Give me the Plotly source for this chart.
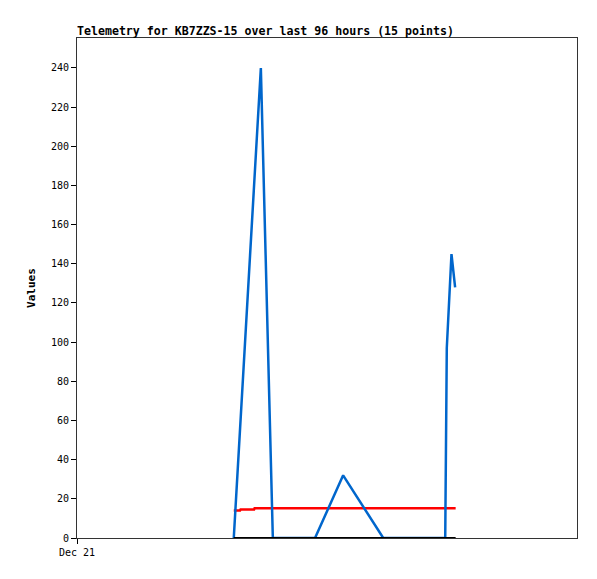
import plotly.graph_objects as go

# Hours since start of window (Dec 21)
blue_hours = [30.1, 35.3, 37.6, 45.7, 51.1, 58.8, 70.7, 71.0, 71.9, 72.6]
blue_values = [0, 240, 0, 0, 32, 0, 0, 97, 145, 128]

red_hours = [30.1, 31.3, 31.4, 34.0, 34.1, 72.7]
red_values = [14.0, 14.0, 14.5, 14.5, 15.2, 15.2]

black_hours = [30.1, 72.7]
black_values = [0, 0]

x_tick_vals = [0]
x_tick_text = ["Dec 21"]
y_tick_vals = list(range(0, 260, 20))

W, H = 589, 571  # page body has an 8px margin

fig = go.Figure()
fig.add_trace(go.Scatter(x=red_hours, y=red_values, mode="lines",
                         line=dict(color="#ff0000", width=2.5), showlegend=False))
fig.add_trace(go.Scatter(x=blue_hours, y=blue_values, mode="lines",
                         line=dict(color="#0066cc", width=2.5), showlegend=False))
fig.add_trace(go.Scatter(x=black_hours, y=black_values, mode="lines",
                         line=dict(color="#000000", width=2), showlegend=False))

fig.update_layout(
    width=W, height=H,
    margin=dict(l=69, r=20, t=30, b=41),
    paper_bgcolor="white", plot_bgcolor="white",
    font=dict(family="DejaVu Sans Mono", size=10, color="#000000"),
    title=dict(text="<b>Telemetry for KB7ZZS-15 over last 96 hours (15 points)</b>",
               x=69/W, xanchor="left", y=1-23/H, yanchor="middle",
               font=dict(family="DejaVu Sans Mono", size=11.6, color="#000000")),
    xaxis=dict(range=[0, 96], tickvals=x_tick_vals, ticktext=x_tick_text,
               ticks="outside", ticklen=5, tickcolor="#000000",
               showgrid=False, zeroline=False, showline=True, linecolor="#333333",
               linewidth=1, mirror=True,
               tickfont=dict(family="DejaVu Sans Mono", size=10)),
    yaxis=dict(range=[0, 255.3], tickvals=y_tick_vals,
               ticks="outside", ticklen=5, tickcolor="#000000",
               showgrid=False, zeroline=False, showline=True, linecolor="#333333",
               linewidth=1, mirror=True,
               title=dict(text="<b>Values</b>", standoff=13,
                          font=dict(family="DejaVu Sans Mono", size=11)),
               tickfont=dict(family="DejaVu Sans Mono", size=10)),
)

fig.write_html("out.html")
